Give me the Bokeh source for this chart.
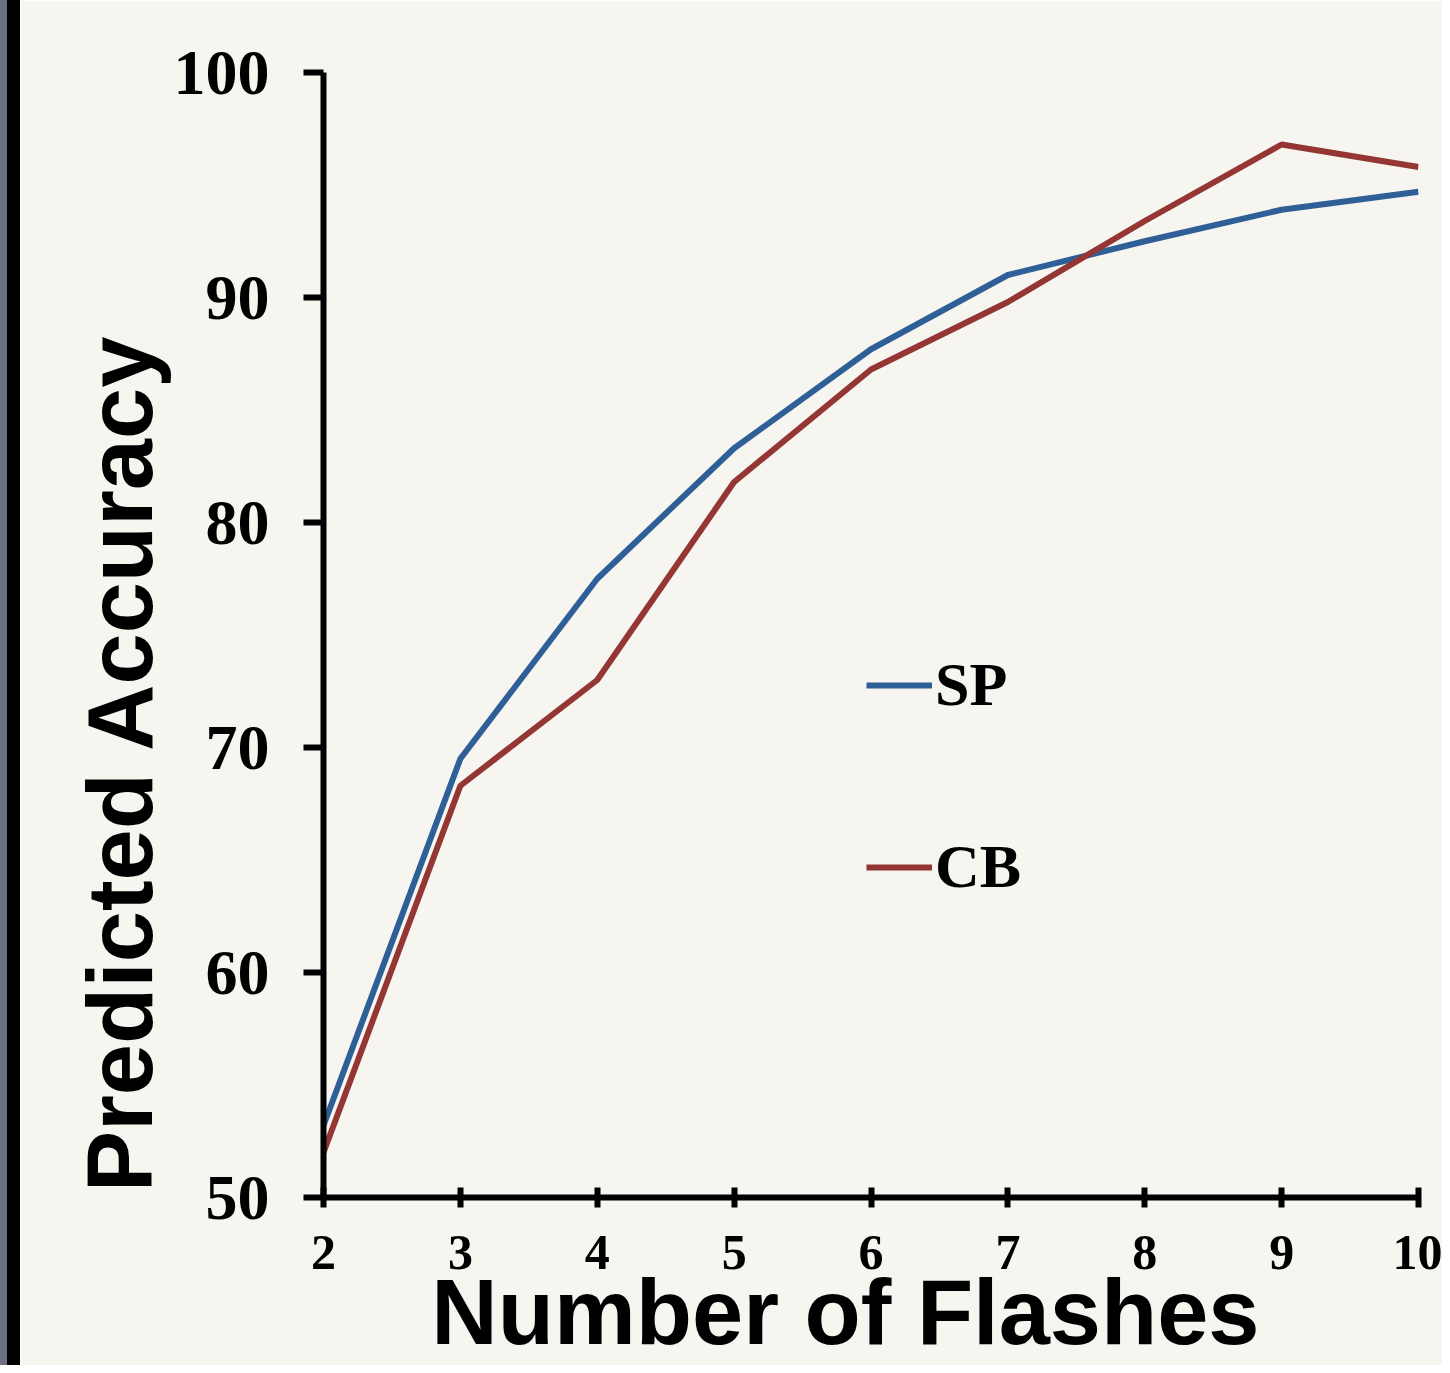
from bokeh.plotting import figure
from bokeh.models import Range1d, Legend, LegendItem, FixedTicker, Div
from bokeh.layouts import row
from bokeh.embed import file_html
from bokeh.resources import INLINE

flashes = [2, 3, 4, 5, 6, 7, 8, 9, 10]
sp_acc = [53.2, 69.5, 77.5, 83.3, 87.7, 91.0, 92.5, 93.9, 94.7]
cb_acc = [52.0, 68.3, 73.0, 81.8, 86.8, 89.8, 93.4, 96.8, 95.8]
y_ticks = [50, 60, 70, 80, 90, 100]
x_ticks = [2, 3, 4, 5, 6, 7, 8, 9, 10]
x_title = "Number of Flashes"
y_title = "Predicted Accuracy"

BG = "#f6f5f0"
BLUE = "#2f5f97"
RED = "#943634"

NB = "\u00a0"

p = figure(width=1422, height=1365, output_backend="svg", toolbar_location=None,
           x_range=Range1d(2, 10), y_range=Range1d(50, 100),
           min_border_left=303, min_border_right=24, min_border_top=72, min_border_bottom=168)
p.background_fill_color = BG
p.border_fill_color = BG
p.outline_line_color = None
p.grid.visible = False

r_sp = p.line(flashes, sp_acc, line_color=BLUE, line_width=6)
r_cb = p.line(flashes, cb_acc, line_color=RED, line_width=6)

for ax in (p.xaxis[0], p.yaxis[0]):
    ax.axis_line_width = 6
    ax.axis_line_color = "black"
    ax.major_tick_line_width = 6
    ax.major_tick_line_color = "black"
    ax.minor_tick_line_color = None
    ax.major_label_text_font = "Liberation Serif"
    ax.major_label_text_font_style = "bold"
    ax.major_label_text_color = "black"
    ax.axis_label_text_font = "Liberation Sans"
    ax.axis_label_text_font_style = "bold"
    ax.axis_label_text_font_size = "92px"
    ax.axis_label_text_color = "black"

p.yaxis.ticker = FixedTicker(ticks=y_ticks)
p.yaxis.major_tick_in = 0
p.yaxis.major_tick_out = 20
p.yaxis.major_label_text_font_size = "64px"
p.yaxis.major_label_standoff = 34
p.yaxis.axis_label = y_title + NB * 10
p.yaxis.axis_label_standoff = 0

p.xaxis.ticker = FixedTicker(ticks=x_ticks)
p.xaxis.major_tick_in = 10
p.xaxis.major_tick_out = 10
p.xaxis.major_label_text_font_size = "50px"
p.xaxis.major_label_standoff = 28
p.xaxis.axis_label = x_title + NB * 2
p.xaxis.axis_label_standoff = -11

legend = Legend(items=[LegendItem(label="SP", renderers=[r_sp]),
                       LegendItem(label="CB", renderers=[r_cb])],
                location=(543, 295), orientation="vertical",
                glyph_width=66, glyph_height=40, label_standoff=3, spacing=111,
                padding=0, margin=0, border_line_color=None, background_fill_alpha=0,
                label_text_font="Liberation Serif", label_text_font_style="bold",
                label_text_font_size="62px", label_text_color="black")
p.add_layout(legend)

bar = Div(width=20, height=1365, margin=0,
          styles={"background": "linear-gradient(to right, #6a7080 0px, #6a7080 7px, #000000 7px, #000000 20px)"})

layout = row(bar, p, spacing=0)
open("out.html", "w").write(file_html(layout, INLINE))
